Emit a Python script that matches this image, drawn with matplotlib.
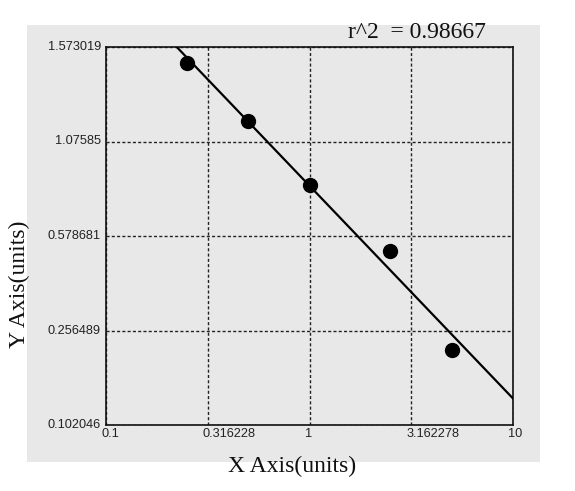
import numpy as np
import matplotlib
matplotlib.use("Agg")
import matplotlib.pyplot as plt
from matplotlib.patches import Rectangle
import matplotlib.transforms as mtransforms

# ---- data ----
x_ticks = [0.1, 0.316228, 1, 3.162278, 10]
x_tick_labels = ["0.1", "0.316228", "1", "3.162278", "10"]
y_ticks = [0.102046, 0.256489, 0.578681, 1.07585, 1.573019]
y_tick_labels = ["0.102046", "0.256489", "0.578681", "1.07585", "1.573019"]
x_points = [0.25, 0.5, 1.0, 2.5, 5.0]
y_points = [1.488, 1.184, 0.847, 0.527, 0.225]
r2_text = "r^2  = 0.98667"
x_label = "X Axis(units)"
y_label = "Y Axis(units)"

W, H = 575, 491
fig = plt.figure(figsize=(W / 100, H / 100), dpi=100)
fig.patch.set_facecolor("white")

bg = "#e8e8e8"
fig.patches.append(Rectangle((27 / W, 1 - 462 / H), (540 - 27) / W, (462 - 25) / H,
                             transform=fig.transFigure, facecolor=bg, edgecolor="none", zorder=-5))

ax = fig.add_axes([106 / W, 1 - 425 / H, 407 / W, 378 / H])
ax.set_facecolor(bg)

pos = np.arange(len(y_ticks), dtype=float)

def _ext(v, xs, ys):
    v = np.asarray(v, dtype=float)
    xs = np.asarray(xs, float); ys = np.asarray(ys, float)
    out = np.interp(v, xs, ys)
    out = np.where(v < xs[0], ys[0] + (v - xs[0]) * (ys[1] - ys[0]) / (xs[1] - xs[0]), out)
    out = np.where(v > xs[-1], ys[-1] + (v - xs[-1]) * (ys[-1] - ys[-2]) / (xs[-1] - xs[-2]), out)
    return out

def fwd(v):
    return _ext(v, y_ticks, pos)

def inv(p):
    return _ext(p, pos, y_ticks)

ax.set_xscale("log")
ax.set_yscale("function", functions=(fwd, inv))
ax.set_xlim(x_ticks[0], x_ticks[-1])
ax.set_ylim(y_ticks[0], y_ticks[-1])

ax.set_xticks(x_ticks)
ax.set_yticks(y_ticks)
ax.xaxis.set_minor_locator(matplotlib.ticker.NullLocator())
ax.yaxis.set_minor_locator(matplotlib.ticker.NullLocator())
ax.set_xticklabels([])
ax.set_yticklabels([])
ax.tick_params(length=0)

ax.grid(True, color="#222222", linestyle=(0, (2.2, 1.6)), linewidth=1.0)
for s in ax.spines.values():
    s.set_color("#111111")
    s.set_linewidth(1.2)

# fit line (least squares in axis-position space vs log10 x)
lx = np.log10(x_points)
py = fwd(np.array(y_points))
coef = np.polyfit(lx, py, 1)
xf = np.logspace(np.log10(x_ticks[0]), np.log10(x_ticks[-1]), 200)
yf = inv(np.polyval(coef, np.log10(xf)))
ax.plot(xf, yf, color="black", linewidth=1.6, zorder=3)
ax.plot(x_points, y_points, "o", color="black", markersize=10, zorder=4)

tick_font = dict(family="Liberation Sans", fontsize=9.2, color="#222222")
xtrans = ax.get_xaxis_transform() + mtransforms.ScaledTranslation(-5 / 100, -3 / 100, fig.dpi_scale_trans)
for xv, lab in zip(x_ticks, x_tick_labels):
    ax.text(xv, 0, lab, transform=xtrans, ha="left", va="top", **tick_font)
ytrans = ax.get_yaxis_transform() + mtransforms.ScaledTranslation(-5 / 100, 0, fig.dpi_scale_trans)
for yv, lab in zip(y_ticks, y_tick_labels):
    ax.text(0, yv, lab, transform=ytrans, ha="right", va="center", **tick_font)

serif = dict(family="Liberation Serif", fontsize=17, color="#111111")
fig.text(292 / W, 1 - 466 / H, x_label, ha="center", va="center", **serif)
fig.text(19 / W, 1 - 284 / H, y_label, ha="center", va="center", rotation=90, **serif)
fig.text(417 / W, 1 - 32 / H, r2_text, ha="center", va="center", **serif)

fig.savefig("out.png", dpi=100, facecolor="white")
